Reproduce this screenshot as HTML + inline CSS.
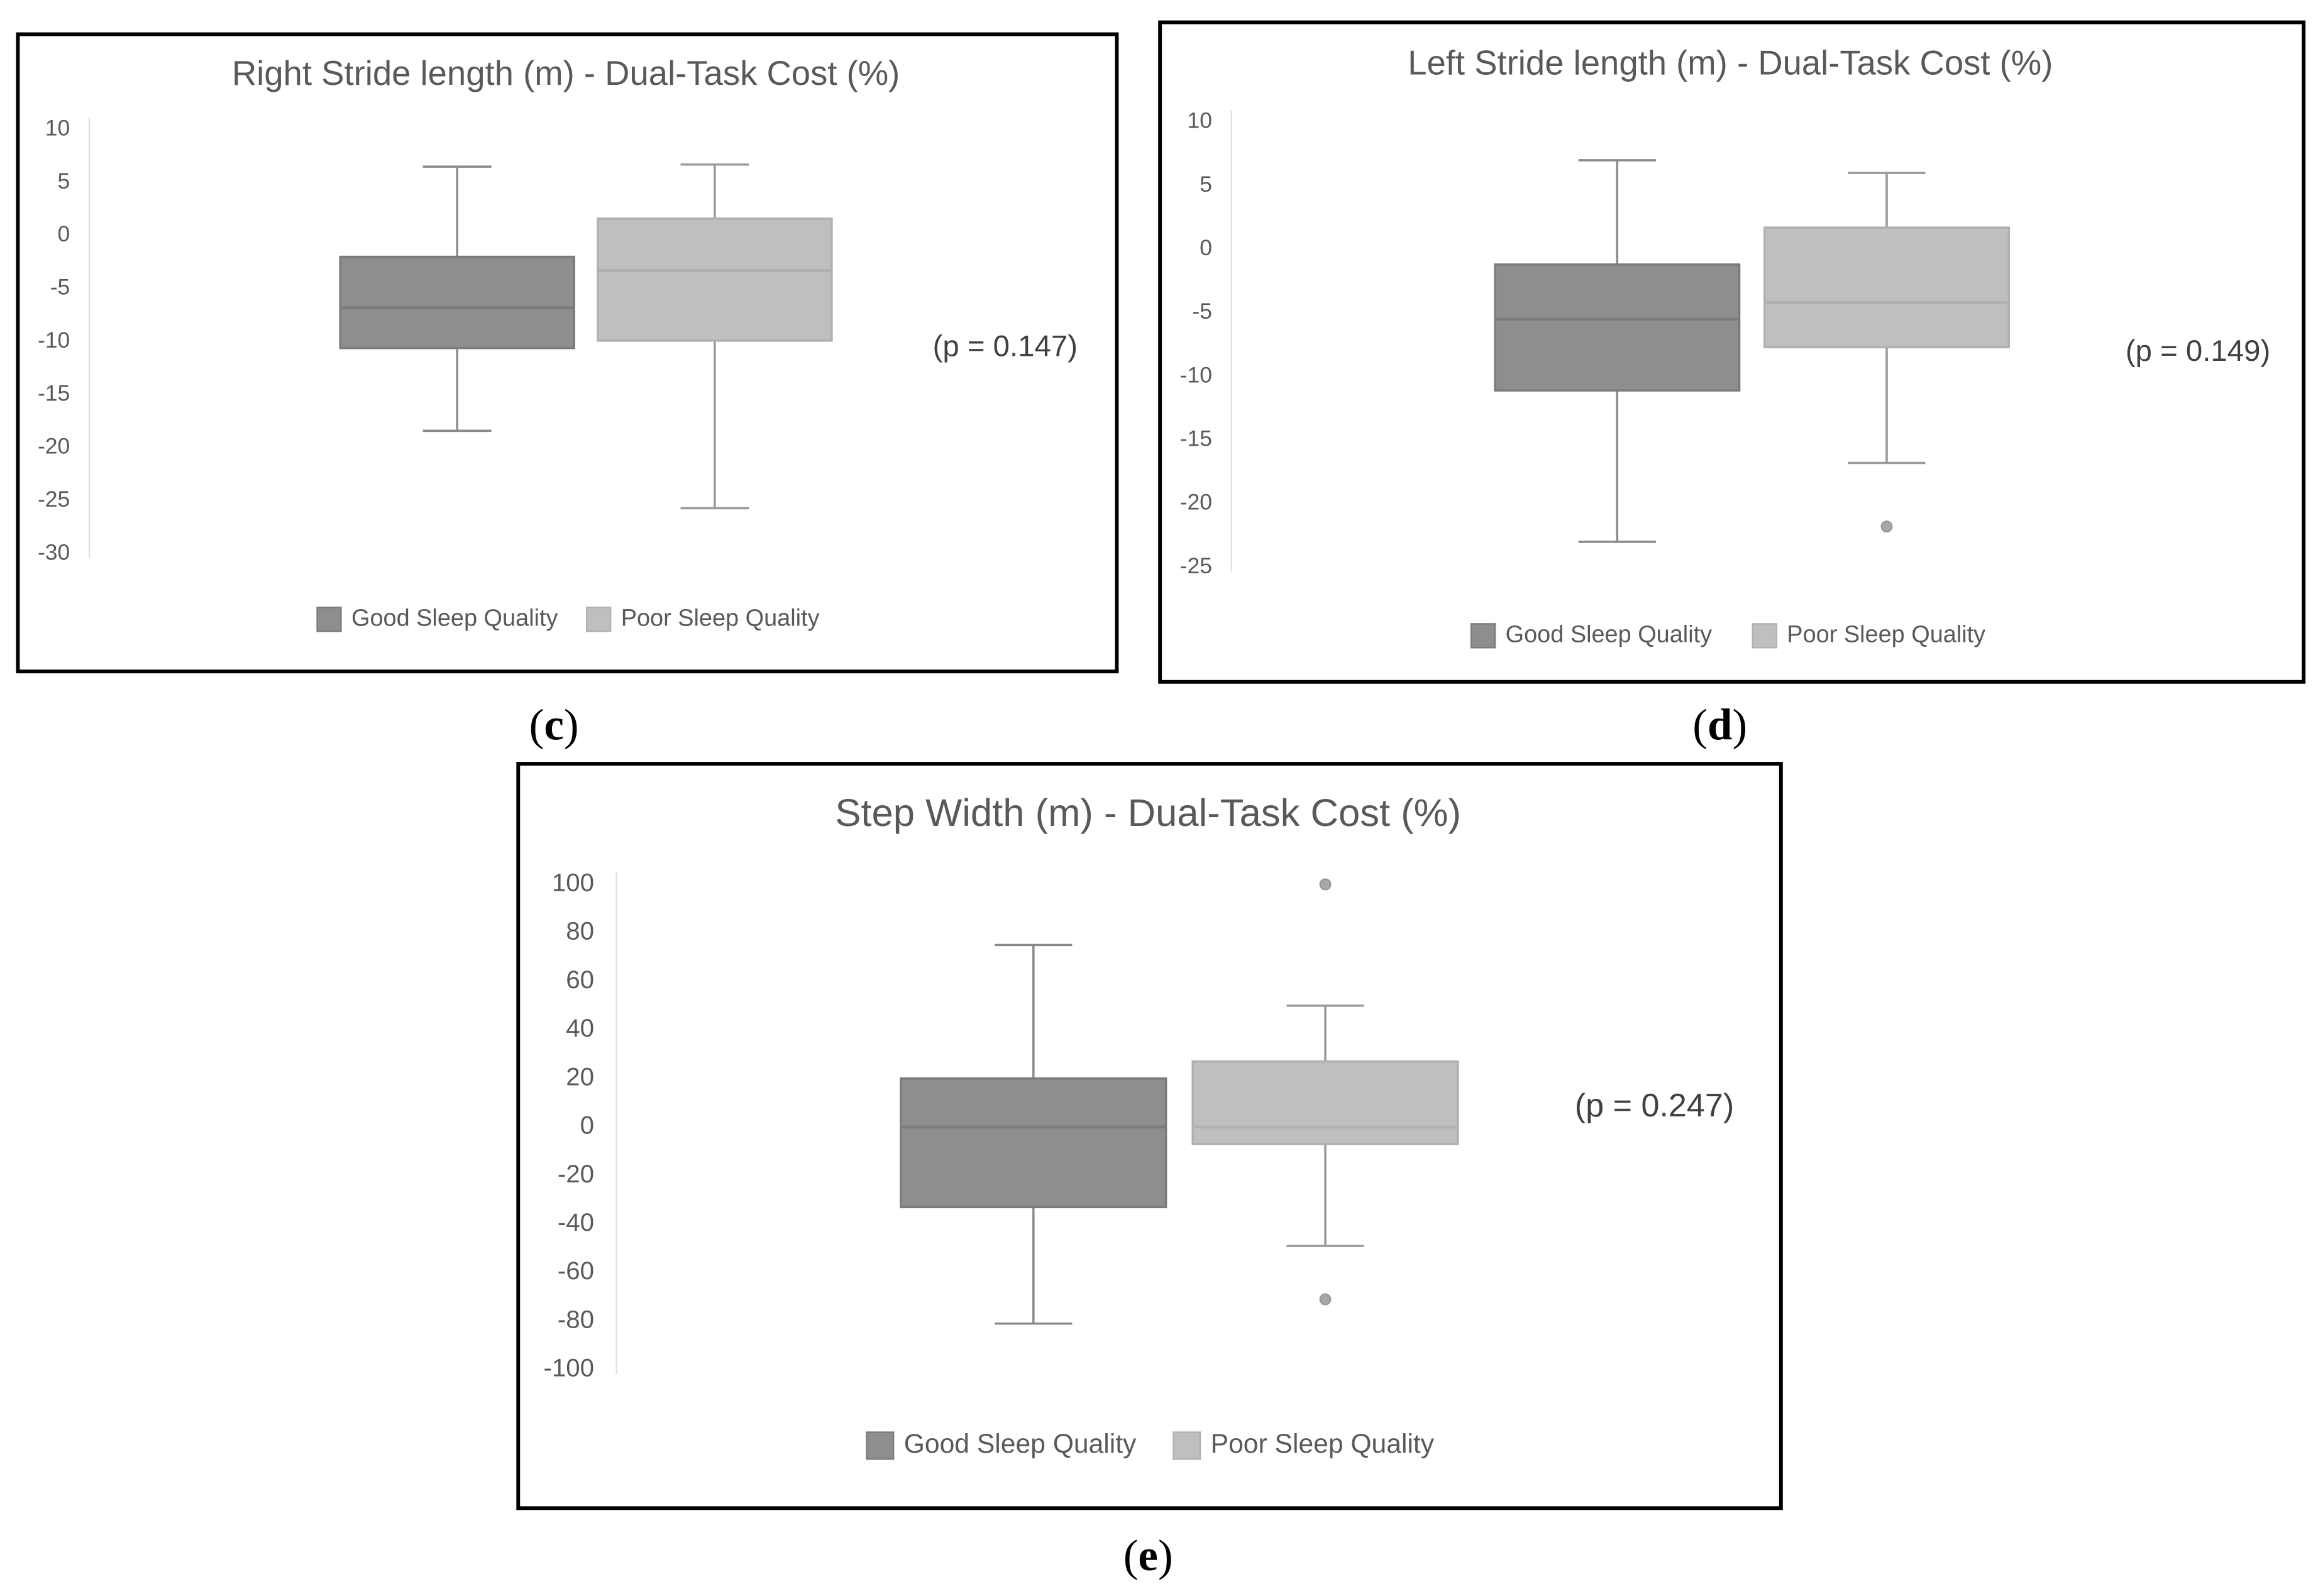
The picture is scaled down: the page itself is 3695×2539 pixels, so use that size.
<!DOCTYPE html>
<html><head><meta charset="utf-8"><style>
html,body{margin:0;padding:0;background:#fff;}
svg{display:block;}
text{font-family:"Liberation Sans",sans-serif;}
</style></head><body>
<svg id="fig" width="3695" height="2539" viewBox="0 0 1560 1072" preserveAspectRatio="none" xmlns="http://www.w3.org/2000/svg"></svg>
<script>
// ---- data ----
const categories = ["Good Sleep Quality", "Poor Sleep Quality"];
const panelTitles = ["Right Stride length (m) - Dual-Task Cost (%)", "Left Stride length (m) - Dual-Task Cost (%)", "Step Width (m) - Dual-Task Cost (%)"];
const panelLetters = ["c", "d", "e"];
const pValues = ["(p = 0.147)", "(p = 0.149)", "(p = 0.247)"];
const ticksC = [10, 5, 0, -5, -10, -15, -20, -25, -30];
const ticksD = [10, 5, 0, -5, -10, -15, -20, -25];
const ticksE = [100, 80, 60, 40, 20, 0, -20, -40, -60, -80, -100];
// [min, q1, median, q3, max]
const goodC = [-18.4, -10.6, -6.8, -2, 6.5];
const poorC = [-25.7, -9.9, -3.3, 1.6, 6.7];
const goodD = [-23, -11.1, -5.5, -1.2, 7];
const poorD = [-16.8, -7.7, -4.2, 1.7, 6];
const goodE = [-81, -33, 0, 20, 75];
const poorE = [-49, -7, 0, 27, 50];
const outliersC = [[], []];
const outliersD = [[], [-21.8]];
const outliersE = [[], [100, -71]];

// ---- layout ----
const layouts = [
 {box:[12,23,738,428], titleX:380, titleY:51, titleSize:23, yTop:87, yBot:372, axisX:60, labX:47, tickSize:15,
  centers:[307,480], bw:157, cap:46, pX:675, pY:234, pSize:20, legY:416, legX:[213,394], legSize:16, sw:16, letX:372, letY:490},
 {box:[779,15,768,443], titleX:1162, titleY:44, titleSize:23, yTop:82, yBot:381, axisX:827, labX:814, tickSize:15,
  centers:[1086,1267], bw:164, cap:52, pX:1476, pY:237, pSize:20, legY:427, legX:[988,1177], legSize:16, sw:16, letX:1155, letY:490},
 {box:[348,513,848,500], titleX:771, titleY:548, titleSize:26, yTop:594, yBot:920, axisX:414, labX:399, tickSize:17,
  centers:[694,890], bw:178, cap:52, pX:1111, pY:744, pSize:22, legY:971, legX:[582,788], legSize:18, sw:18, letX:771, letY:1048}
];
const allTicks=[ticksC,ticksD,ticksE];
const allData=[[goodC,poorC],[goodD,poorD],[goodE,poorE]];
const allOut=[outliersC,outliersD,outliersE];
const fills=["#8e8e8e","#bfbfbf"], strokes=["#7b7b7b","#b0b0b0"], whisk=["#8a8a8a","#9a9a9a"];
const svg=document.getElementById('fig');
const NS="http://www.w3.org/2000/svg";
function mk(tag,attrs,parent){const e=document.createElementNS(NS,tag);for(const k in attrs)e.setAttribute(k,attrs[k]);(parent||svg).appendChild(e);return e;}

layouts.forEach((L,pi)=>{
  const g=mk('g',{});
  
  
  const ticks=allTicks[pi];
  const tMax=ticks[0], tMin=ticks[ticks.length-1];
  const y=v=>L.yTop+(tMax-v)/(tMax-tMin)*(L.yBot-L.yTop);
  const fr=mk('rect',{x:L.box[0],y:L.box[1],width:L.box[2],height:L.box[3],fill:'none',stroke:'#000','stroke-width':2.5},g);
  
  
  const t=mk('text',{x:L.titleX,y:L.titleY,'text-anchor':'middle','dominant-baseline':'middle','font-size':L.titleSize,fill:'#595959'},g);
  t.textContent=panelTitles[pi];
  
  
  const ax=mk('line',{x1:L.axisX,x2:L.axisX,y1:y(tMax)-8,y2:y(tMin)+3,stroke:'#e0e0e0','stroke-width':1},g);
  
  
  ticks.forEach(v=>{
    const tl=mk('text',{x:L.labX,y:y(v),'text-anchor':'end','dominant-baseline':'middle','font-size':L.tickSize,fill:'#595959'},g);
    tl.textContent=v;
    
    
  });
  allData[pi].forEach((d,si)=>{
    const cx=L.centers[si];
    const bg=mk('g',{},g);
    
    
    mk('line',{x1:cx,x2:cx,y1:y(d[0]),y2:y(d[1]),stroke:whisk[si],'stroke-width':1.5},bg);
    mk('line',{x1:cx,x2:cx,y1:y(d[3]),y2:y(d[4]),stroke:whisk[si],'stroke-width':1.5},bg);
    mk('line',{x1:cx-L.cap/2,x2:cx+L.cap/2,y1:y(d[0]),y2:y(d[0]),stroke:whisk[si],'stroke-width':1.5},bg);
    mk('line',{x1:cx-L.cap/2,x2:cx+L.cap/2,y1:y(d[4]),y2:y(d[4]),stroke:whisk[si],'stroke-width':1.5},bg);
    mk('rect',{x:cx-L.bw/2,y:y(d[3]),width:L.bw,height:y(d[1])-y(d[3]),fill:fills[si],stroke:strokes[si],'stroke-width':1.5},bg);
    mk('line',{x1:cx-L.bw/2,x2:cx+L.bw/2,y1:y(d[2]),y2:y(d[2]),stroke:strokes[si],'stroke-width':2},bg);
    allOut[pi][si].forEach(o=>{
      const c=mk('circle',{cx:cx,cy:y(o),r:3.5,fill:'#a8a8a8',stroke:'#999','stroke-width':1},bg);
      
      
    });
  });
  const p=mk('text',{x:L.pX,y:L.pY,'text-anchor':'middle','dominant-baseline':'middle','font-size':L.pSize,fill:'#404040'},g);
  p.textContent=pValues[pi];
  
  
  categories.forEach((c,si)=>{
    const lg=mk('g',{},g);
    
    
    mk('rect',{x:L.legX[si],y:L.legY-L.sw/2,width:L.sw,height:L.sw,fill:fills[si],stroke:strokes[si],'stroke-width':1},lg);
    const lt=mk('text',{x:L.legX[si]+L.sw+7,y:L.legY,'dominant-baseline':'middle','font-size':L.legSize,fill:'#595959'},lg);
    lt.textContent=c;
  });
  const le=mk('text',{x:L.letX,y:L.letY,'text-anchor':'middle','dominant-baseline':'middle','font-size':30,fill:'#000',style:'font-family:"Liberation Serif",serif'},svg);
  le.innerHTML='(<tspan font-weight="bold">'+panelLetters[pi]+'</tspan>)';
  
  
});
</script>
</body></html>
